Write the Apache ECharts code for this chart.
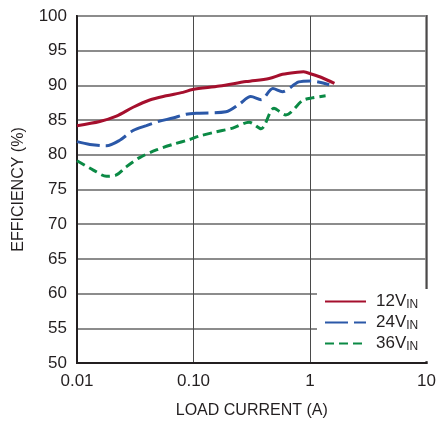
<!DOCTYPE html>
<html>
<head>
<meta charset="utf-8">
<script src="https://cdn.jsdelivr.net/npm/echarts@6/dist/echarts.min.js"></script>
<style>
html,body{margin:0;padding:0;background:#fff;}
#chart{width:439px;height:424px;}
</style>
</head>
<body>
<div id="chart"></div>
<script>
// Data
var seriesNames = ['12V', '24V', '36V'];
var current12 = [0.01, 0.0157, 0.0218, 0.0303, 0.0421, 0.0583, 0.0811, 0.098, 0.167, 0.283, 0.446, 0.58, 0.78, 0.88, 1.04, 1.27, 1.62];
var eff12     = [84.2, 84.8, 85.57, 86.85, 87.9, 88.5, 89.0, 89.4, 89.9, 90.55, 91.0, 91.6, 91.9, 91.95, 91.6, 91.1, 90.3];
var current24 = [0.01, 0.0129, 0.0179, 0.0233, 0.0303, 0.0394, 0.0512, 0.0665, 0.0866, 0.1124, 0.19, 0.247, 0.31, 0.38, 0.48, 0.58, 0.80, 1.01, 1.46];
var eff24     = [81.9, 81.5, 81.3, 82.1, 83.5, 84.2, 84.85, 85.3, 85.85, 86.0, 86.2, 87.3, 88.4, 87.95, 89.55, 89.1, 90.5, 90.65, 90.1];
var current36 = [0.01, 0.0138, 0.0179, 0.0218, 0.0266, 0.0345, 0.048, 0.0665, 0.0923, 0.1124, 0.156, 0.217, 0.30, 0.38, 0.49, 0.62, 0.86, 1.04, 1.36];
var eff36     = [79.15, 77.8, 76.9, 77.1, 78.3, 79.6, 80.7, 81.5, 82.2, 82.7, 83.3, 83.85, 84.7, 83.76, 86.7, 85.75, 87.8, 88.2, 88.5];
var xTickLabels = {'0.01': '0.01', '0.1': '0.10', '1': '1', '10': '10'};

function pairs(xs, ys) { return xs.map(function (x, i) { return [x, ys[i]]; }); }

var FONT = '"Liberation Sans", Arial, sans-serif';
var TXT = '#231f20';

var chart = echarts.init(document.getElementById('chart'));
chart.setOption({
  animation: false,
  backgroundColor: '#fff',
  textStyle: { fontFamily: FONT },
  grid: { left: 77, right: 11, top: 16, bottom: 57, show: true, borderColor: TXT, borderWidth: 2, backgroundColor: 'transparent' },
  xAxis: {
    type: 'log', logBase: 10, min: 0.01, max: 10,
    name: 'LOAD CURRENT (A)', nameLocation: 'middle', nameGap: 40,
    nameTextStyle: { fontFamily: FONT, fontSize: 16, color: TXT },
    axisLine: { show: true, lineStyle: { color: TXT, width: 2 } },
    axisTick: { show: false },
    axisLabel: { fontFamily: FONT, fontSize: 17, color: TXT, margin: 10,
      formatter: function (v) { var k = String(+v.toPrecision(3)); return xTickLabels[k] !== undefined ? xTickLabels[k] : k; } },
    splitLine: { show: true, lineStyle: { color: '#4a4a4a', width: 1 } },
    minorSplitLine: { show: false }
  },
  yAxis: {
    type: 'value', min: 50, max: 100, interval: 5,
    name: 'EFFICIENCY (%)', nameLocation: 'middle', nameGap: 50, nameRotate: 90,
    nameTextStyle: { fontFamily: FONT, fontSize: 16, color: TXT },
    axisLine: { show: true, lineStyle: { color: TXT, width: 2 } },
    axisTick: { show: false },
    axisLabel: { fontFamily: FONT, fontSize: 17, color: TXT, margin: 10 },
    splitLine: { show: true, lineStyle: { color: '#8c8c8c', width: 2 } }
  },
  legend: {
    orient: 'vertical', left: 317, top: 289,
    backgroundColor: '#fff', padding: [4, 12, 8, 7],
    itemWidth: 41, itemHeight: 14, itemGap: 3,
    itemStyle: { opacity: 0, borderWidth: 0 },
    data: seriesNames,
    formatter: function (name) { return '{v|' + name + '}{s|IN}'; },
    textStyle: {
      color: TXT, fontFamily: FONT, fontSize: 17,
      rich: {
        v: { fontFamily: FONT, fontSize: 17, color: TXT, padding: [0, 0, 0, 5] },
        s: { fontFamily: FONT, fontSize: 12, color: TXT, padding: [7, 0, 0, 0] }
      }
    }
  },
  series: [
    { name: seriesNames[0], type: 'line', data: pairs(current12, eff12), smooth: 0.3, showSymbol: false, symbol: 'none',
      lineStyle: { color: '#a50f2d', width: 3 }, itemStyle: { color: '#a50f2d' }, z: 5 },
    { name: seriesNames[1], type: 'line', data: pairs(current24, eff24), smooth: 0.3, showSymbol: false, symbol: 'none',
      lineStyle: { color: '#2b58a8', width: 3, type: [23, 6] }, itemStyle: { color: '#2b58a8' }, z: 4 },
    { name: seriesNames[2], type: 'line', data: pairs(current36, eff36), smooth: 0.3, showSymbol: false, symbol: 'none',
      lineStyle: { color: '#0b8a45', width: 3, type: [9, 5] }, itemStyle: { color: '#0b8a45' }, z: 3 }
  ]
});
</script>
</body>
</html>
